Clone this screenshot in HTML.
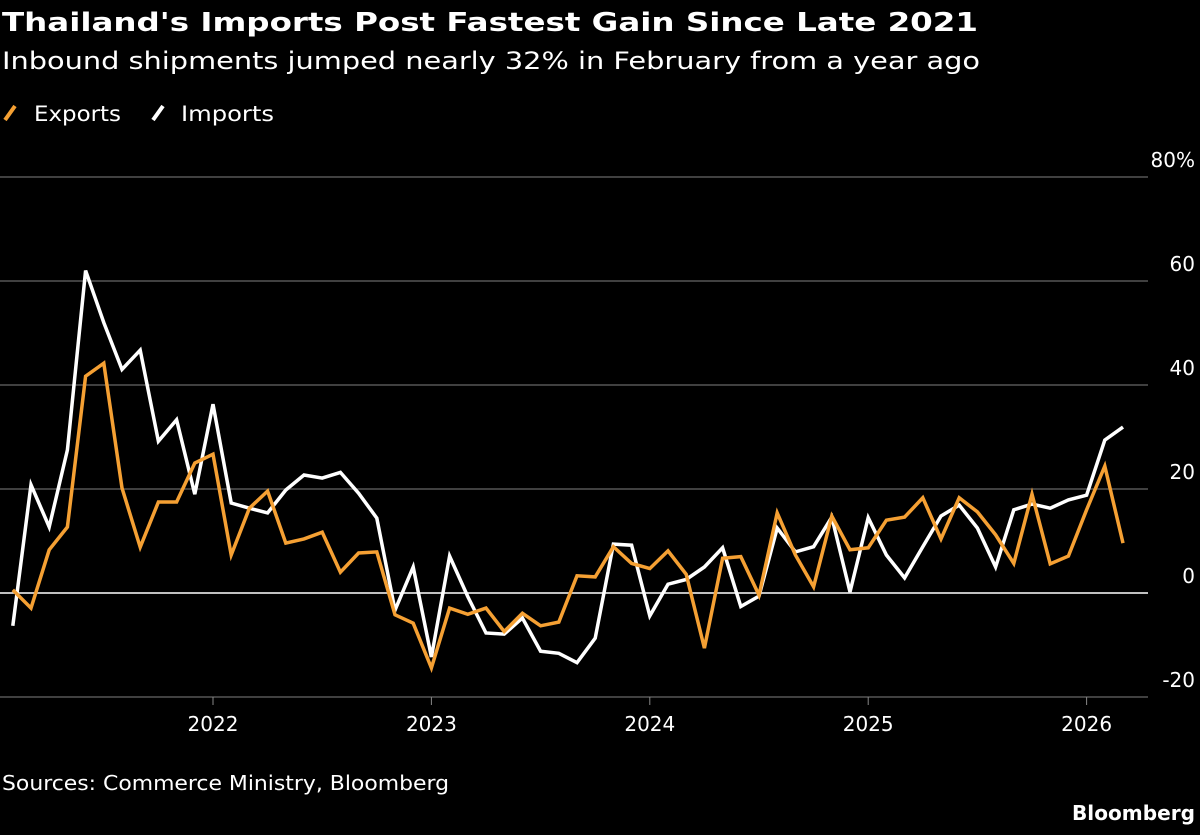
<!DOCTYPE html>
<html><head><meta charset="utf-8"><style>
body{margin:0;background:#000;width:1200px;height:831px;overflow:hidden;font-family:"DejaVu Sans",sans-serif;color:#fff}
svg text{font-family:"DejaVu Sans","Liberation Sans",sans-serif}
</style></head><body>
<svg id="chart" width="1200" height="831" xmlns="http://www.w3.org/2000/svg">
<text x="2" y="31" font-size="26" font-weight="bold" fill="#fff" textLength="976" lengthAdjust="spacingAndGlyphs">Thailand's Imports Post Fastest Gain Since Late 2021</text>
<text x="2" y="69" font-size="24" fill="#fff" textLength="978" lengthAdjust="spacingAndGlyphs">Inbound shipments jumped nearly 32% in February from a year ago</text>
<g><line x1="5" y1="120" x2="15" y2="106" stroke="#f5a033" stroke-width="4"/><text x="34" y="121" font-size="21" fill="#fff" textLength="87" lengthAdjust="spacingAndGlyphs">Exports</text></g>
<g><line x1="153" y1="120" x2="163" y2="106" stroke="#fff" stroke-width="4"/><text x="181" y="121" font-size="21" fill="#fff" textLength="93" lengthAdjust="spacingAndGlyphs">Imports</text></g>
<g id="grid"></g><g id="lines"></g>
<text x="2" y="790" font-size="20" fill="#fff" textLength="447" lengthAdjust="spacingAndGlyphs">Sources: Commerce Ministry, Bloomberg</text>
<text x="1072" y="820" font-size="20" font-weight="bold" fill="#fff" textLength="123" lengthAdjust="spacingAndGlyphs">Bloomberg</text>
</svg>
<script>
const yTicks=[80,60,40,20,0,-20];
const yTickLabels=["80%","60","40","20","0","-20"];
const xTickYears=[2022,2023,2024,2025,2026];
const imports=[-6.3,20.8,12.7,27.5,62,52,43,46.7,29.2,33.3,19,36.3,17.3,16.3,15.4,19.8,22.7,22.1,23.2,19.2,14.4,-3.3,5,-12.3,7.1,-0.7,-7.7,-7.9,-4.8,-11.2,-11.6,-13.4,-8.7,9.4,9.2,-4.4,1.7,2.6,5,8.7,-2.6,-0.6,12.5,7.9,8.9,14.6,0.2,14.5,7.3,2.9,8.9,14.8,16.9,12.5,5,16,17.1,16.3,17.9,18.8,29.4,31.9];
const exports=[0.6,-2.9,8.3,12.7,41.7,44.2,20.2,8.8,17.5,17.5,25,26.7,7.3,16.3,19.6,9.6,10.4,11.7,4,7.7,7.9,-4.2,-5.8,-14.4,-2.9,-4.1,-2.9,-7.4,-3.9,-6.3,-5.6,3.3,3.1,8.9,5.7,4.7,8.1,3.6,-10.6,6.7,7,-0.4,15.4,7.3,1.2,14.8,8.3,8.7,14,14.6,18.3,10.4,18.3,15.6,11.2,5.7,19,5.6,7.1,16,24.4,9.6];
const ns="http://www.w3.org/2000/svg";
const y=v=>593-v*5.2;
const xi=i=>12.8+i*18.2; // month index from Feb 2021
const xYear=yr=>xi((yr-2021)*12-1);
const grid=document.getElementById('grid'),lines=document.getElementById('lines');
yTicks.forEach((t,k)=>{
 const l=document.createElementNS(ns,'line');
 
 
 l.setAttribute('x1',0);l.setAttribute('x2',1148);l.setAttribute('y1',y(t));l.setAttribute('y2',y(t));
 l.setAttribute('stroke',t===0?'#fff':'#666');l.setAttribute('stroke-width',t===0?1.5:1.2);
 grid.appendChild(l);
 const tx=document.createElementNS(ns,'text');
 
 
 tx.setAttribute('x',1195);tx.setAttribute('y',y(t)-10);tx.setAttribute('text-anchor','end');
 tx.setAttribute('font-size','20');tx.setAttribute('fill','#fff');tx.textContent=yTickLabels[k];
 grid.appendChild(tx);
});
xTickYears.forEach(yr=>{
 const x=xYear(yr);
 const l=document.createElementNS(ns,'line');
 
 
 l.setAttribute('x1',x);l.setAttribute('x2',x);l.setAttribute('y1',697);l.setAttribute('y2',705);
 l.setAttribute('stroke','#888');grid.appendChild(l);
 const tx=document.createElementNS(ns,'text');
 
 
 tx.setAttribute('x',x);tx.setAttribute('y',731);tx.setAttribute('text-anchor','middle');
 tx.setAttribute('font-size','20');tx.setAttribute('fill','#fff');tx.textContent=yr;
 grid.appendChild(tx);
});
function series(arr,color,name){
 const p=document.createElementNS(ns,'polyline');
 
 
 p.setAttribute('points',arr.map((v,i)=>xi(i).toFixed(1)+','+y(v).toFixed(1)).join(' '));
 p.setAttribute('fill','none');p.setAttribute('stroke',color);p.setAttribute('stroke-width','3.5');
 p.setAttribute('stroke-linejoin','miter');
 lines.appendChild(p);
}
series(imports,'#fff','imports-line');
series(exports,'#f5a033','exports-line');
</script>
</body></html>
